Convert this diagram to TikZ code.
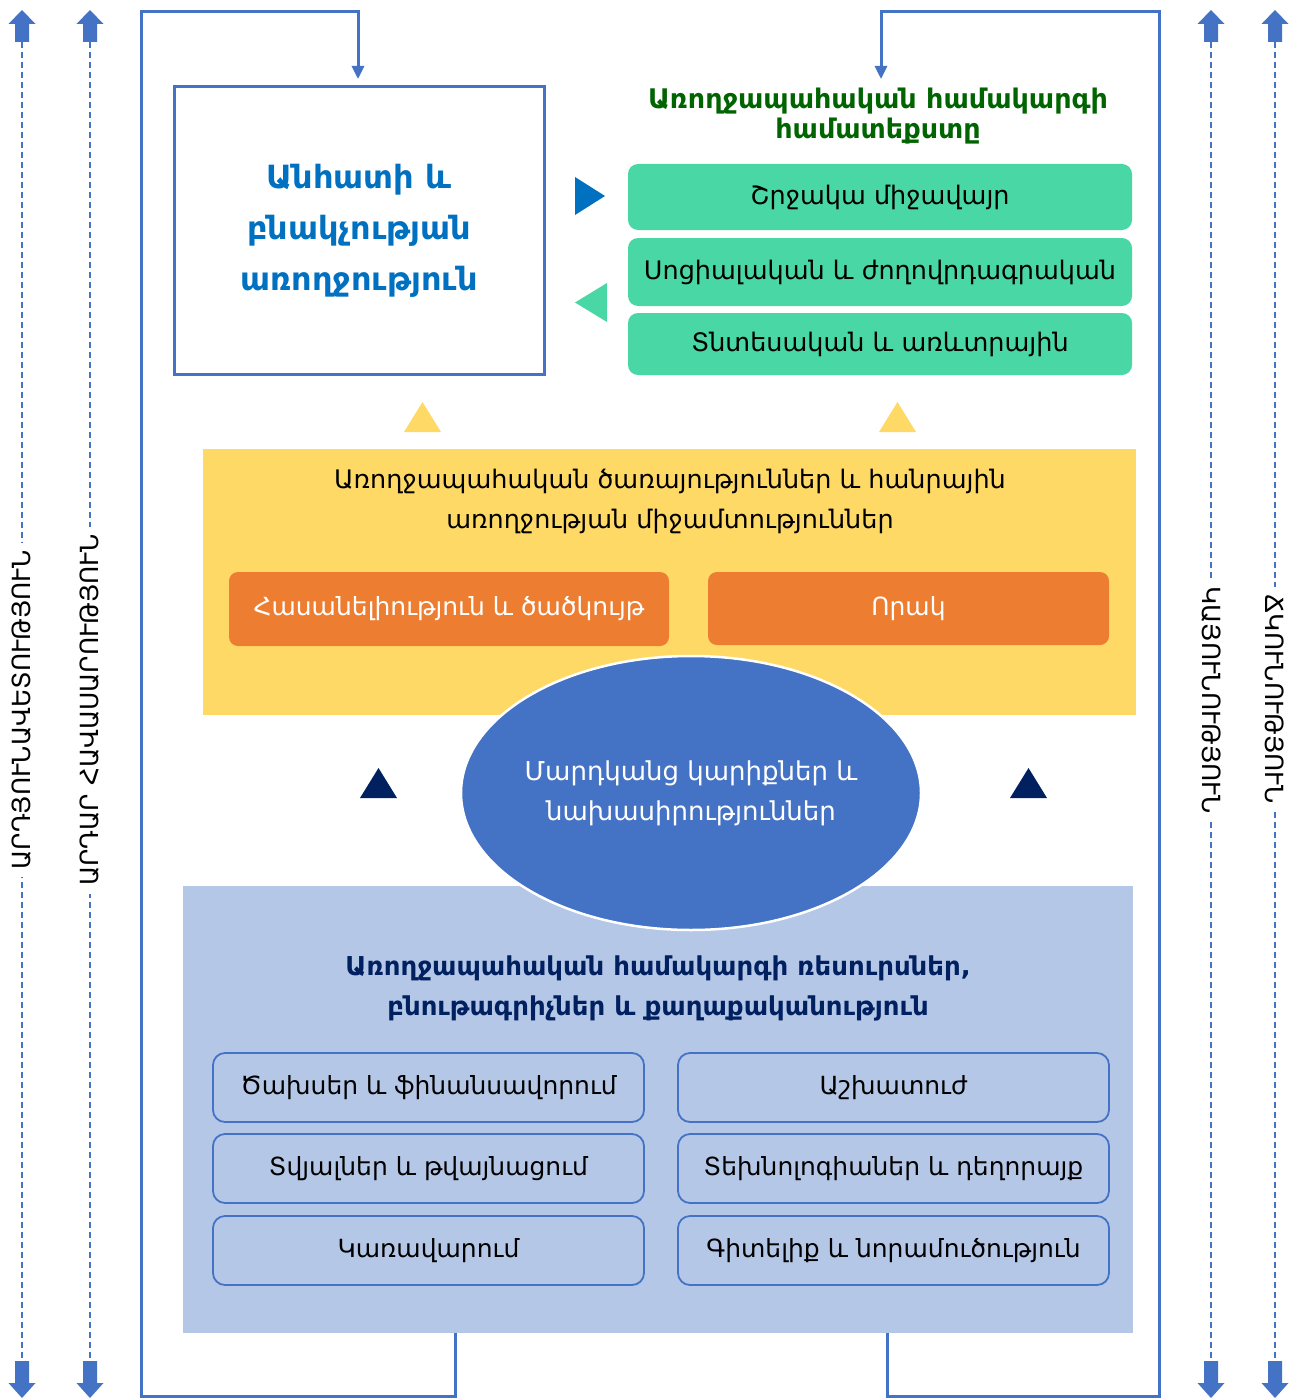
\documentclass[tikz,border=0pt]{standalone}
\usepackage{fontspec}
\setmainfont{DejaVu Sans}
\usetikzlibrary{arrows.meta,shapes.geometric}
\definecolor{bline}{RGB}{68,114,196}
\definecolor{tblue}{RGB}{0,112,192}
\definecolor{gfill}{RGB}{72,215,165}
\definecolor{gtitle}{RGB}{0,100,0}
\definecolor{yfill}{RGB}{255,217,102}
\definecolor{ofill}{RGB}{237,125,49}
\definecolor{lbfill}{RGB}{180,199,231}
\definecolor{navy}{RGB}{0,32,96}
\newcommand\setfs[2]{\fontsize{#1}{#2}\selectfont}
\tikzset{
  greenbox/.style={rectangle, rounded corners=10pt, fill=gfill, minimum width=504pt, font=\setfs{25.5}{30}},
  orangebox/.style={rectangle, rounded corners=9pt, fill=ofill, text=white, font=\setfs{25}{30}},
  resbox/.style={rectangle, rounded corners=12pt, draw=bline, line width=1.8pt, fill=lbfill, minimum width=431pt, minimum height=69pt, font=\setfs{25}{30}},
  bracket/.style={draw=bline, line width=3pt},
  sidetext/.style={fill=white, inner sep=8pt, font=\setfs{25}{30}},
  sideline/.style={draw=bline, line width=1.2pt, dash pattern=on 6pt off 4pt},
  blockarrow/.style={fill=bline, draw=none},
}
\begin{document}
\begin{tikzpicture}[x=1pt,y=-1pt]
\useasboundingbox (0,0) rectangle (1293,1399);
\fill[white] (0,0) rectangle (1293,1399);

% side dashed lines with block arrows
\foreach \c in {22,90,1211,1275}{
  \draw[sideline] (\c,42) -- (\c,1361);
  \fill[blockarrow] (\c,10) -- (\c+13.5,24) -- (\c+7,24) -- (\c+7,42) -- (\c-7,42) -- (\c-7,24) -- (\c-13.5,24) -- cycle;
  \fill[blockarrow] (\c,1398) -- (\c+13.5,1383) -- (\c+7,1383) -- (\c+7,1361) -- (\c-7,1361) -- (\c-7,1383) -- (\c-13.5,1383) -- cycle;
}
\node[sidetext, rotate=90] (s1) at (22,710) {ԱՐԴՅՈՒՆԱՎԵՏՈՒԹՅՈՒՆ};
\node[sidetext, rotate=90] (s2) at (90,710) {ԱՐԴԱՐ ՀԱՎԱՍԱՐՈՒԹՅՈՒՆ};
\node[sidetext, rotate=-90] (s3) at (1211,700) {ԿԱՅՈՒՆՈՒԹՅՈՒՆ};
\node[sidetext, rotate=-90] (s4) at (1275,699) {ՃԿՈՒՆՈՒԹՅՈՒՆ};

% individual health box
\node[rectangle, draw=bline, line width=3pt, fill=white, minimum width=370pt, minimum height=287pt,
      align=center, text=tblue, font=\bfseries\setfs{32}{51}] (indiv) at (359,230.5)
  {Անհատի և\\բնակչության\\առողջություն};

% context title and green boxes
\node[align=center, text=gtitle, font=\bfseries\setfs{27}{30}] (ctx) at (878,116)
  {Առողջապահական համակարգի\\համատեքստը};
\node[greenbox, minimum height=66pt] (g1) at (880,197) {Շրջակա միջավայր};
\node[greenbox, minimum height=68pt] (g2) at (880,272) {Սոցիալական և ժողովրդագրական};
\node[greenbox, minimum height=62pt] (g3) at (880,344) {Տնտեսական և առևտրային};

\fill[tblue] (575,177) -- (605,196) -- (575,215) -- cycle;
\fill[gfill] (607,283) -- (575,302.5) -- (607,322) -- cycle;

% yellow triangles
\fill[yfill] (404,432) -- (422.5,402) -- (441,432) -- cycle;
\fill[yfill] (879,432) -- (897.5,402) -- (916,432) -- cycle;

% services block
\node[rectangle, fill=yfill, minimum width=933pt, minimum height=266pt] (serv) at (669.5,582) {};
\node[align=center, font=\setfs{25.5}{40}] (servt) at (670,501)
  {Առողջապահական ծառայություններ և հանրային\\առողջության միջամտություններ};
\node[orangebox, minimum width=440pt, minimum height=74pt] (o1) at (449,609) {Հասանելիություն և ծածկույթ};
\node[orangebox, minimum width=401pt, minimum height=73pt] (o2) at (908.5,608.5) {Որակ};

% navy triangles
\fill[navy] (360,798) -- (378.5,768) -- (397,798) -- cycle;
\fill[navy] (1010,798) -- (1028.5,768) -- (1047,798) -- cycle;

% resources block
\node[rectangle, fill=lbfill, minimum width=950pt, minimum height=447pt] (res) at (658,1109.5) {};
\node[align=center, text=navy, font=\bfseries\setfs{26}{40}] (rest) at (658,988)
  {Առողջապահական համակարգի ռեսուրսներ,\\բնութագրիչներ և քաղաքականություն};
\node[resbox] (r1) at (428.5,1087.5) {Ծախսեր և ֆինանսավորում};
\node[resbox] (r2) at (893.5,1087.5) {Աշխատուժ};
\node[resbox] (r3) at (428.5,1168.5) {Տվյալներ և թվայնացում};
\node[resbox] (r4) at (893.5,1168.5) {Տեխնոլոգիաներ և դեղորայք};
\node[resbox] (r5) at (428.5,1250.5) {Կառավարում};
\node[resbox] (r6) at (893.5,1250.5) {Գիտելիք և նորամուծություն};

% ellipse
\node[ellipse, fill=bline, draw=white, line width=2.5pt, inner sep=0pt, minimum width=460pt, minimum height=274pt] (need) at (691,793) {};
\node[align=center, text=white, font=\setfs{26}{40}] (needt) at (need.center)
  {Մարդկանց կարիքներ և\\նախասիրություններ};

% brackets
\coordinate (lb) at (455,1333);
\coordinate (rb) at (887,1333);
\draw[bracket, -{Triangle[width=12pt,length=13pt]}] (lb) -- (455,1396) -- (141,1396) -- (141,12) -- (358,12) -- (358,79);
\draw[bracket, -{Triangle[width=12pt,length=13pt]}] (rb) -- (887,1396) -- (1159,1396) -- (1159,12) -- (881,12) -- (881,79);
\end{tikzpicture}
\end{document}
